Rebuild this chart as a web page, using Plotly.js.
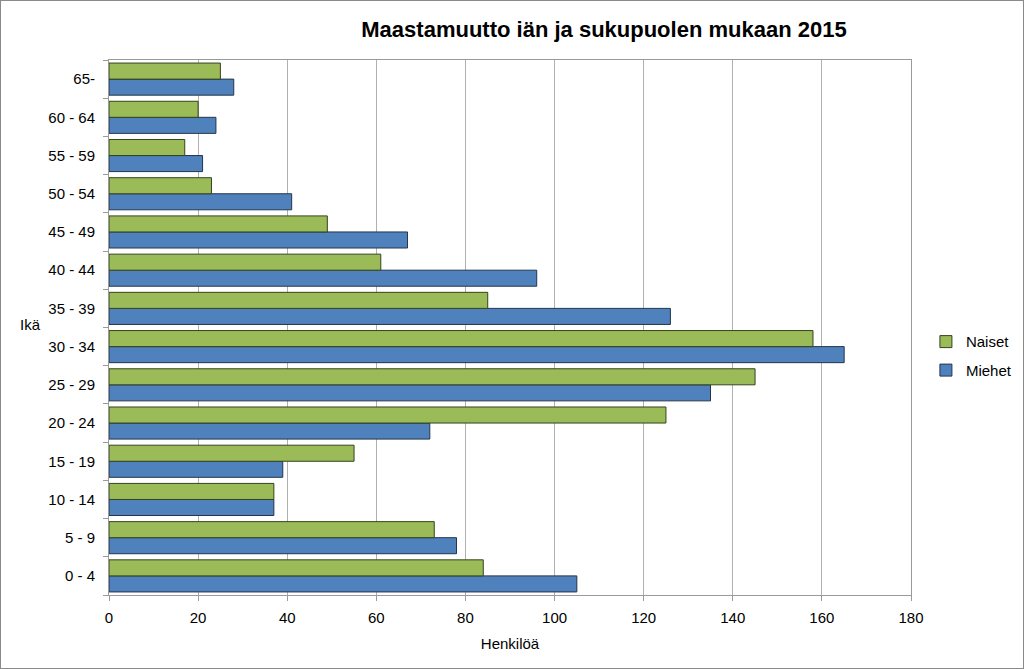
<!DOCTYPE html>
<html>
<head>
<meta charset="utf-8">
<script src="https://cdn.plot.ly/plotly-3.0.1.min.js"></script>
<style>
html,body{margin:0;padding:0;background:#fff;}
#chart{width:1024px;height:669px;box-sizing:border-box;border:1px solid #8a8a8a;}
</style>
</head>
<body>
<div id="chart"></div>
<script>
const categories = ["0 - 4","5 - 9","10 - 14","15 - 19","20 - 24","25 - 29","30 - 34","35 - 39","40 - 44","45 - 49","50 - 54","55 - 59","60 - 64","65-"];
const naiset = [84, 73, 37, 55, 125, 145, 158, 85, 61, 49, 23, 17, 20, 25];
const miehet = [105, 78, 37, 39, 72, 135, 165, 126, 96, 67, 41, 21, 24, 28];
const xTicks = [0, 20, 40, 60, 80, 100, 120, 140, 160, 180];

const font = "Liberation Sans, Arial, sans-serif";

const traces = [
  {
    type: "bar", orientation: "h", name: "Miehet", legendgroup: "m", legendrank: 2,
    y: categories, x: miehet,
    marker: {color: "#4F81BD", line: {color: "#25354a", width: 1}}
  },
  {
    type: "bar", orientation: "h", name: "Naiset", legendgroup: "n", legendrank: 1,
    y: categories, x: naiset,
    marker: {color: "#9BBB59", line: {color: "#34441c", width: 1}}
  }
];

const layout = {
  width: 1022, height: 667,
  margin: {l: 108, r: 112, t: 59, b: 73, pad: 0, autoexpand: false},
  paper_bgcolor: "#fff", plot_bgcolor: "#fff",
  barmode: "group",
  bargap: 0.16, bargroupgap: 0,
  title: {
    text: "<b>Maastamuutto iän ja sukupuolen mukaan 2015</b>",
    x: 0.59, xanchor: "center", y: 0.958, yanchor: "middle",
    font: {family: font, size: 22, color: "#000"}
  },
  xaxis: {
    range: [0, 180], tickvals: xTicks, ticktext: xTicks.map(String),
    showgrid: true, gridcolor: "#b0b0b0", gridwidth: 1,
    showline: true, linecolor: "#9a9a9a", linewidth: 1, mirror: true,
    ticks: "outside", ticklen: 5, tickcolor: "#9a9a9a",
    tickfont: {family: font, size: 15, color: "#000"},
    ticklabelstandoff: 4,
    zeroline: false, fixedrange: true,
    title: {text: "Henkilöä", font: {family: font, size: 15, color: "#000"}, standoff: 13}
  },
  yaxis: {
    type: "category", categoryorder: "array", categoryarray: categories,
    showline: true, linecolor: "#9a9a9a", linewidth: 1, mirror: true,
    ticks: "outside", ticklen: 5, tickcolor: "#9a9a9a", tickson: "boundaries",
    tickfont: {family: font, size: 15, color: "#000"},
    showgrid: false, zeroline: false, fixedrange: true, ticklabelstandoff: 10
  },
  legend: {
    xref: "container", yref: "container",
    x: 0.905, xanchor: "left", y: 0.468, yanchor: "middle",
    traceorder: "grouped",
    font: {family: font, size: 15, color: "#000"},
    itemwidth: 30, tracegroupgap: 6
  },
  annotations: [{
    text: "Ikä", xref: "paper", yref: "paper", x: -0.098, y: 0.505,
    xanchor: "center", yanchor: "middle", showarrow: false,
    font: {family: font, size: 15, color: "#000"}
  }],
  showlegend: true
};

Plotly.newPlot("chart", traces, layout, {displayModeBar: false, staticPlot: true});
</script>
</body>
</html>
